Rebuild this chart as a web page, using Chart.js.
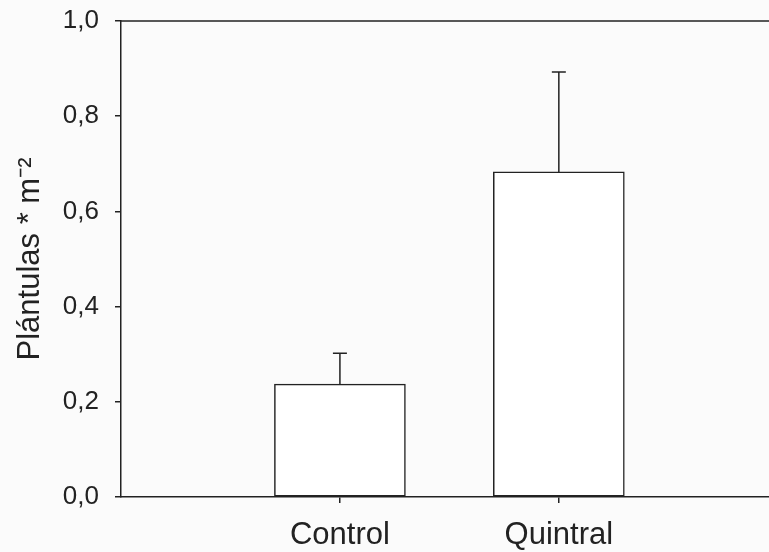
<!DOCTYPE html>
<html>
<head>
<meta charset="utf-8">
<script src="https://cdn.jsdelivr.net/npm/chart.js@4/dist/chart.umd.min.js"></script>
<style>
  html, body { margin: 0; padding: 0; background: #fbfbfb; }
  #wrap { width: 769px; height: 552px; }
</style>
</head>
<body>
<div id="wrap"><canvas id="BarChart"></canvas></div>
<script>
var categories = ["Control", "Quintral"]
var values = [0.237, 0.683]
var errors = [0.065, 0.21]
var yTicks = [0, 0.2, 0.4, 0.6, 0.8, 1.0]

var ink = '#222222'

// error bars above each bar + top frame line
var errorBars = {
    id: 'errorBars',
    afterDatasetsDraw: function(chart) {
        var ctx = chart.ctx
        var y = chart.scales.y
        var meta = chart.getDatasetMeta(0)
        ctx.save()
        ctx.strokeStyle = ink
        ctx.lineWidth = 1.5
        meta.data.forEach(function(bar, i) {
            var top = y.getPixelForValue(values[i] + errors[i])
            ctx.beginPath()
            ctx.moveTo(bar.x, bar.y)
            ctx.lineTo(bar.x, top)
            ctx.moveTo(bar.x - 7, top)
            ctx.lineTo(bar.x + 7, top)
            ctx.stroke()
        })
        var a = chart.chartArea
        ctx.beginPath()
        ctx.moveTo(a.left, a.top)
        ctx.lineTo(a.right, a.top)
        ctx.stroke()
        ctx.restore()
    }
}

new Chart("BarChart", {
    type: 'bar',
    data: {
        datasets: [{
            data: values.map(function(v, i) { return { x: i + 1, y: v } }),
            backgroundColor: '#ffffff',
            borderColor: ink,
            borderWidth: 1.5,
            borderSkipped: false,
            barThickness: 131
        }]
    },
    plugins: [errorBars],
    options: {
        responsive: true,
        maintainAspectRatio: false,
        animation: false,
        layout: { padding: { top: 21, right: 0, left: 0, bottom: 0 } },
        plugins: {
            legend: { display: false },
            tooltip: { enabled: false }
        },
        scales: {
            x: {
                type: 'linear',
                offset: false,
                min: 0,
                max: 2.96,
                afterBuildTicks: function(scale) {
                    scale.ticks = categories.map(function(c, i) { return { value: i + 1 } })
                },
                afterFit: function(scale) { scale.height = 55 },
                grid: {
                    offset: false,
                    drawOnChartArea: false,
                    tickLength: 6,
                    color: ink,
                    lineWidth: 1.5
                },
                border: { color: ink, width: 1.5 },
                ticks: {
                    color: ink,
                    padding: 14,
                    maxRotation: 0,
                    autoSkip: false,
                    font: { family: 'Liberation Sans, Arial, sans-serif', size: 31 },
                    callback: function(value) {
                        return categories[value - 1]
                    }
                }
            },
            y: {
                min: 0,
                max: 1,
                afterBuildTicks: function(scale) {
                    scale.ticks = yTicks.map(function(v) { return { value: v } })
                },
                afterFit: function(scale) {
                    scale.width = 121
                    scale.paddingTop = 0
                    scale.paddingBottom = 0
                },
                grid: {
                    drawOnChartArea: false,
                    tickLength: 6,
                    color: ink,
                    lineWidth: 1.5
                },
                border: { color: ink, width: 1.5 },
                title: {
                    display: true,
                    text: 'Plántulas * m⁻²',
                    color: ink,
                    padding: { top: 12, bottom: 0 },
                    font: { family: 'Liberation Sans, Arial, sans-serif', size: 31 }
                },
                ticks: {
                    color: ink,
                    padding: 16,
                    font: { family: 'Liberation Sans, Arial, sans-serif', size: 26 },
                    callback: function(value) {
                        return value.toFixed(1).replace('.', ',')
                    }
                }
            }
        }
    }
});
</script>
</body>
</html>
